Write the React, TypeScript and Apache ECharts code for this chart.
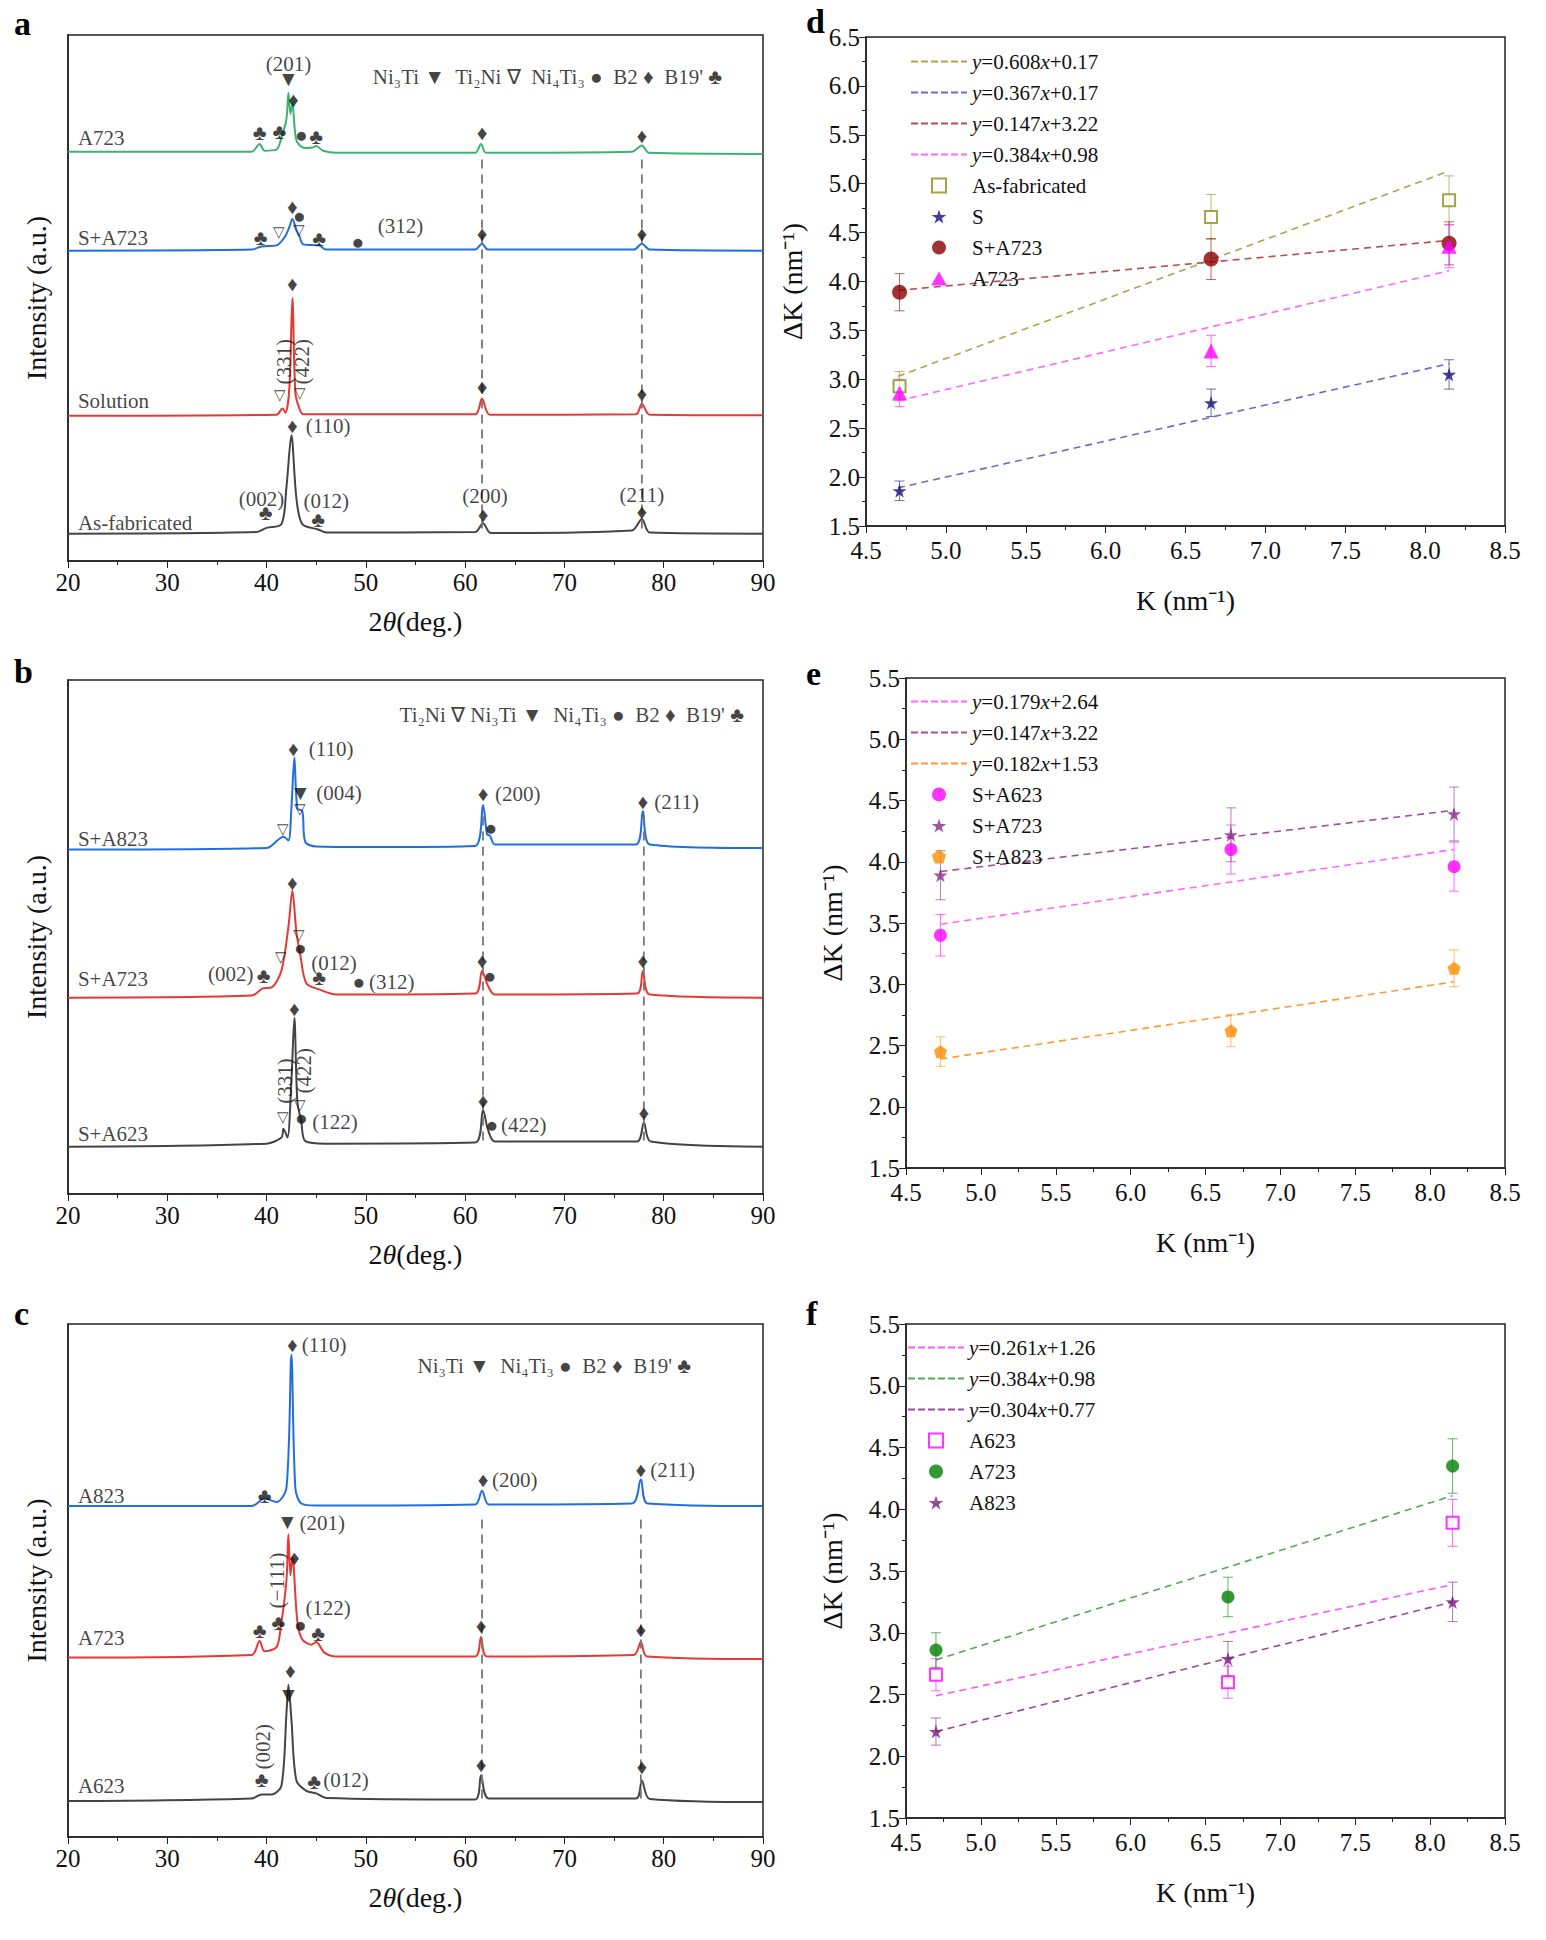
import React, { useEffect, useRef } from "react";
import * as echarts from "echarts";

const FONT = "Liberation Serif";

// ---- XRD curves: [2theta, intensity (offset, a.u.)]
const a_A723 = [[20,77.8],[38.5,77.8],[39.3,79.3],[39.8,78],[41,78.2],[41.5,80.5],[42,84],[42.2,89],[42.4,85],[42.6,87],[43,80],[43.8,78.5],[44.6,78.6],[45,78.9],[45.7,78],[47,77.6],[61,77.6],[61.6,79.3],[62.1,77.6],[76.8,77.8],[77.8,79],[78.5,77.6],[90,77.4]];
const a_SA723 = [[20,59],[38.5,59.2],[39.5,59.8],[41,60],[41.8,61.5],[42.3,63.5],[42.6,65],[43,63],[43.3,61.8],[43.7,60.2],[45.3,60],[46,59.2],[61,59.2],[61.7,60.3],[62.3,59.2],[77,59.2],[77.8,60.3],[78.6,59.2],[90,59]];
const a_Sol = [[20,27.6],[41,27.8],[41.6,29],[41.9,28.2],[42.3,33],[42.6,50],[42.9,32],[43.3,29],[43.7,27.9],[61,27.9],[61.7,30.9],[62.5,27.8],[77.2,27.9],[77.8,29.9],[78.6,27.8],[90,27.7]];
const a_AsFab = [[20,5.2],[39,5.5],[40,6.3],[41.5,7],[42,14],[42.5,23.9],[43,12],[43.6,7],[45.2,6],[46,5.4],[61,5.5],[61.8,7.2],[62.6,5.3],[76.8,5.8],[77.8,8],[78.6,5.4],[90,5.2]];

const b_SA823 = [[20,67],[40,67.3],[41.7,69.5],[42.2,68.8],[42.5,75],[42.8,84.9],[43.1,75],[43.6,74.5],[43.9,68.5],[45,67.6],[50,67.5],[61,67.7],[61.8,75.7],[62.2,70],[62.5,69.7],[63,68],[77.2,68],[77.9,74.5],[78.6,68],[90,67.3]];
const b_SA723 = [[20,38.2],[38.5,38.6],[39.6,40],[40.5,40.2],[41.5,43.5],[42.2,52],[42.6,59],[43,51],[43.4,46.5],[44,41],[45.3,39.8],[47,38.8],[61,39],[61.7,43.4],[62.3,40.5],[63,38.8],[77.3,39],[77.9,43.4],[78.6,38.8],[90,38.2]];
const b_SA623 = [[20,9.2],[40,9.8],[41.5,11],[41.7,12.7],[42.1,11],[42.5,22],[42.8,34.3],[43.1,18],[43.5,14],[43.9,10.3],[46,9.8],[61,10],[61.8,16.3],[62.3,12.5],[63,10.2],[77.3,10.2],[78,13.9],[78.7,10.2],[90,9.2]];

const c_A823 = [[20,64.5],[38.5,64.5],[39.8,66],[41,65.3],[42,68],[42.5,94],[42.9,68],[43.5,65],[45,64.6],[61,64.8],[61.7,67.5],[62.4,64.8],[76.8,65],[77.7,69.7],[78.4,65],[90,64.5]];
const c_A723 = [[20,35],[38.5,35.5],[39.3,38.2],[39.8,36.2],[41,37],[41.4,40.5],[42,50],[42.2,59],[42.4,51],[42.6,54.6],[43.1,42],[43.6,38.5],[44.5,37.5],[45,38],[45.8,36],[47,35.2],[61,35.2],[61.6,39],[62.2,35.2],[77,35.5],[77.7,38],[78.3,35.2],[90,34.7]];
const c_A623 = [[20,7],[38.5,7.5],[39.5,8.3],[40.5,8.3],[41.5,10],[42,24],[42.2,29.7],[42.5,23],[43,11],[44,9],[45,8.5],[46,7.6],[61,7.3],[61.6,12],[62.4,7.5],[77.2,7.5],[77.8,11],[78.6,7.4],[90,6.8]];

// annotations: [x, y, text, kind] kind: c centre, l left, r rotated
const a_notes: any[] = [
  [42.2,94.4,"(201)"],[42.2,91.6,"▼"],[42.7,87.6,"♦"],[39.3,81.3,"♣"],[41.3,81.5,"♣"],[43.5,81,"●"],[45,80.7,"♣"],
  [61.7,81.3,"♦"],[77.8,80.8,"♦"],[21,80.5,"A723","l"],
  [42.6,67.3,"♦"],[43.3,65.5,"●"],[41.3,62.5,"▽"],[43.3,62.9,"▽"],[39.4,61.4,"♣"],[45.3,61.2,"♣"],[49.2,60.6,"●"],[53.5,63.7,"(312)"],
  [61.7,62.2,"♦"],[77.8,62.2,"♦"],[21,61.4,"S+A723","l"],
  [42.6,52.6,"♦"],[41.8,37.9,"(331)","r"],[43.6,37.9,"(422)","r"],[41.4,31.5,"▽"],[43.4,31.9,"▽"],[61.7,33.1,"♦"],[77.8,31.7,"♦"],[21,30.4,"Solution","l"],
  [42.6,25.7,"♦"],[46.2,25.7,"(110)"],[39.5,11.8,"(002)"],[39.9,9.2,"♣"],[46,11.4,"(012)"],[45.2,7.8,"♣"],[62,12.4,"(200)"],[61.8,8.8,"♦"],
  [77.8,12.5,"(211)"],[77.8,9.3,"♦"],[21,7.3,"As-fabricated","l"],
  [50.7,92,"Ni₃Ti ▼  Ti₂Ni ∇  Ni₄Ti₃ ●  B2 ♦  B19' ♣","l"],
];
const b_notes: any[] = [
  [53.4,93.2,"Ti₂Ni ∇ Ni₃Ti ▼  Ni₄Ti₃ ●  B2 ♦  B19' ♣","l"],
  [42.7,86.6,"♦"],[46.5,86.6,"(110)"],[43.4,78,"▼"],[47.3,78,"(004)"],[43.4,75,"▽"],[41.7,71,"▽"],[61.8,77.8,"♦"],[65.3,77.8,"(200)"],[62.6,71.3,"●"],
  [77.9,76.3,"♦"],[81.3,76.3,"(211)"],[21,69,"S+A823","l"],
  [42.6,60.6,"♦"],[43.3,50.4,"▽"],[43.4,47.8,"●"],[41.5,46.2,"▽"],[46.8,45,"(012)"],[45.3,42,"♣"],[49.3,41.2,"●"],[52.6,41.2,"(312)"],
  [39.7,42.5,"♣"],[36.4,42.8,"(002)"],[61.7,45.4,"♦"],[62.5,42.5,"●"],[77.9,45.4,"♦"],[21,41.8,"S+A723","l"],
  [42.8,35.9,"♦"],[41.9,22,"(331)","r"],[43.8,24,"(422)","r"],[41.7,14.9,"▽"],[43.4,17.3,"▽"],[43.5,14.7,"●"],[46.9,14.1,"(122)"],
  [61.8,18.1,"♦"],[62.7,13.5,"●"],[65.9,13.5,"(422)"],[78,15.7,"♦"],[21,11.7,"S+A623","l"],
];
const c_notes: any[] = [
  [55.2,91.9,"Ni₃Ti ▼  Ni₄Ti₃ ●  B2 ♦  B19' ♣","l"],
  [42.6,96,"♦"],[45.8,96,"(110)"],[39.8,66.5,"♣"],[61.8,69.5,"♦"],[65,69.5,"(200)"],[77.7,71.5,"♦"],[80.9,71.5,"(211)"],[21,66.5,"A823","l"],
  [42.1,61.5,"▼"],[45.6,61.3,"(201)"],[42.8,54.3,"♦"],[41,50,"(−111)","r"],[46.2,44.7,"(122)"],[39.3,40.2,"♣"],[41.2,41.8,"♣"],[43.4,41.4,"●"],[45.2,39.6,"♣"],
  [61.6,41.2,"♦"],[77.7,40.4,"♦"],[21,38.7,"A723","l"],
  [42.4,32.3,"♦"],[42.2,27.7,"▼"],[39.6,17.6,"(002)","r"],[39.5,11.1,"♣"],[44.8,10.7,"♣"],[48,11.1,"(012)"],[61.6,14,"♦"],[77.8,13.7,"♦"],[21,9.9,"A623","l"],
];
const a_dash = [61.7, 77.8], a_dashY = [6.2, 77];
const b_dash = [61.8, 78], b_dashY = [10.4, 74.5];
const c_dash = [61.7, 77.7], c_dashY = [7.5, 62];

// ---- Williamson-Hall: K, dK, err
const K_d = [4.71, 6.66, 8.15];
const d_AsFab = [2.93, 4.66, 4.83], d_AsFabErr = [0.15, 0.23, 0.25];
const d_S = [1.86, 2.76, 3.05], d_SErr = [0.1, 0.14, 0.15];
const d_SA723 = [3.89, 4.23, 4.39], d_SA723Err = [0.19, 0.21, 0.22];
const d_A723 = [2.86, 3.29, 4.36], d_A723Err = [0.14, 0.16, 0.22];
const d_fitX = [4.7, 8.15];
const d_fits = [
  { name: "y=0.608x+0.17", y: [3.03, 5.13], color: "#a8a84a" },
  { name: "y=0.367x+0.17", y: [1.89, 3.16], color: "#6a6acc" },
  { name: "y=0.147x+3.22", y: [3.91, 4.42], color: "#b05050" },
  { name: "y=0.384x+0.98", y: [2.78, 4.11], color: "#ff66ff" },
];
const K_e = [4.73, 6.67, 8.16];
const e_SA623 = [3.40, 4.10, 3.96], e_SA623Err = [0.17, 0.2, 0.2];
const e_SA723 = [3.89, 4.22, 4.39], e_SA723Err = [0.2, 0.22, 0.22];
const e_SA823 = [2.45, 2.62, 3.13], e_SA823Err = [0.12, 0.13, 0.15];
const e_fitX = [4.73, 8.16];
const e_fits = [
  { name: "y=0.179x+2.64", y: [3.49, 4.10], color: "#ff66ff" },
  { name: "y=0.147x+3.22 ", y: [3.92, 4.42], color: "#a050a0" },
  { name: "y=0.182x+1.53", y: [2.39, 3.02], color: "#ff9933" },
];
const K_f = [4.70, 6.65, 8.15];
const f_A623 = [2.66, 2.60, 3.89], f_A623Err = [0.13, 0.13, 0.19];
const f_A723 = [2.86, 3.29, 4.35], f_A723Err = [0.14, 0.16, 0.22];
const f_A823 = [2.20, 2.79, 3.25], f_A823Err = [0.11, 0.14, 0.16];
const f_fitX = [4.70, 8.15];
const f_fits = [
  { name: "y=0.261x+1.26", y: [2.49, 3.39], color: "#ff55ff" },
  { name: "y=0.384x+0.98 ", y: [2.78, 4.11], color: "#55aa55" },
  { name: "y=0.304x+0.77", y: [2.20, 3.25], color: "#9a4a9a" },
];

const STAR = "path://M50,0 L61,35 L98,35 L68,57 L79,91 L50,70 L21,91 L32,57 L2,35 L39,35 Z";
const PENT = "path://M50,0 L98,36 L80,95 L20,95 L2,36 Z";
const SQUARE = "path://M0,0 L10,0 L10,10 L0,10 Z";
const TRI = "path://M50,0 L100,90 L0,90 Z";
const CIRCLE = "path://M50,0 A50,50 0 1,1 49.9,0 Z";
const DASH_ICON = "path://M0,0h7v2h-7z M10,0h7v2h-7z M20,0h7v2h-7z M30,0h7v2h-7z M40,0h7v2h-7z M50,0h6v2h-6z";

const App: React.FC = () => {
  const ref = useRef<HTMLDivElement>(null);
  useEffect(() => {
    document.body.style.margin = "0";
    const chart = echarts.init(ref.current!, null, { renderer: "svg" });

    const grids = [
      { left: 68, top: 35, width: 695, height: 526 },
      { left: 68, top: 680, width: 695, height: 514 },
      { left: 68, top: 1324, width: 695, height: 513 },
      { left: 866, top: 37, width: 639, height: 489 },
      { left: 906, top: 678, width: 599, height: 490 },
      { left: 906, top: 1324, width: 599, height: 494 },
    ].map((g) => ({ ...g, show: true, borderColor: "#222", borderWidth: 1.5, backgroundColor: "transparent" }));

    const tickText = { fontFamily: FONT, fontSize: 25, color: "#111" };
    const nameText = { fontFamily: FONT, fontSize: 28, color: "#111" };
    const xAxis: any[] = [];
    const yAxis: any[] = [];
    for (let i = 0; i < 3; i++) {
      xAxis.push({
        gridIndex: i, type: "value", min: 20, max: 90, interval: 10,
        name: "2{i|θ}(deg.)", nameLocation: "middle", nameGap: 46,
        nameTextStyle: { ...nameText, rich: { i: { ...nameText, fontStyle: "italic" } } },
        axisLine: { lineStyle: { color: "#222", width: 1.5 } },
        axisTick: { length: 7, lineStyle: { color: "#222" } },
        minorTick: { show: true, splitNumber: 2, length: 4, lineStyle: { color: "#222" } },
        axisLabel: { ...tickText, margin: 9 }, splitLine: { show: false },
      });
      yAxis.push({
        gridIndex: i, type: "value", min: 0, max: 100,
        name: "Intensity (a.u.)", nameLocation: "middle", nameGap: 18, nameTextStyle: nameText,
        axisLine: { show: true, lineStyle: { color: "#222", width: 1.5 } },
        axisTick: { show: false }, axisLabel: { show: false }, splitLine: { show: false },
      });
    }
    const wh = [
      { min: 1.5, max: 6.5 },
      { min: 1.5, max: 5.5 },
      { min: 1.5, max: 5.5 },
    ];
    for (let i = 0; i < 3; i++) {
      xAxis.push({
        gridIndex: 3 + i, type: "value", min: 4.5, max: 8.5, interval: 0.5,
        name: "K (nm⁻¹)", nameLocation: "middle", nameGap: 60, nameTextStyle: nameText,
        axisLine: { lineStyle: { color: "#222", width: 1.5 } },
        axisTick: { length: 7, lineStyle: { color: "#222" } },
        minorTick: { show: true, splitNumber: 2, length: 4, lineStyle: { color: "#222" } },
        axisLabel: { ...tickText, margin: 12, formatter: (v: number) => v.toFixed(1) },
        splitLine: { show: false },
      });
      yAxis.push({
        gridIndex: 3 + i, type: "value", min: wh[i].min, max: wh[i].max, interval: 0.5,
        name: "ΔK (nm⁻¹)", nameLocation: "middle", nameGap: 60, nameTextStyle: nameText,
        axisLine: { show: true, lineStyle: { color: "#222", width: 1.5 } },
        axisTick: { length: 7, lineStyle: { color: "#222" } },
        minorTick: { show: true, splitNumber: 2, length: 4, lineStyle: { color: "#222" } },
        axisLabel: { ...tickText, margin: 6, formatter: (v: number) => v.toFixed(1) },
        splitLine: { show: false },
      });
    }

    const series: any[] = [];
    const curve = (idx: number, data: number[][], color: string) =>
      series.push({ type: "line", xAxisIndex: idx, yAxisIndex: idx, data, symbol: "none", smooth: 0.3, lineStyle: { color, width: 2 } });
    const notes = (idx: number, list: any[]) =>
      series.push({
        type: "scatter", xAxisIndex: idx, yAxisIndex: idx, symbolSize: 1, itemStyle: { color: "transparent" }, silent: true, z: 5,
        data: list.map((n) => ({
          value: [n[0], n[1]],
          label: {
            show: true, formatter: n[2], position: "inside", color: "#111", fontFamily: FONT,
            fontSize: n[2] === "▽" ? 15 : 21,
            align: n[3] === "l" ? "left" : "center", verticalAlign: "middle", rotate: n[3] === "r" ? 90 : 0,
          },
        })),
      });
    const dashes = (idx: number, xs: number[], ys: number[]) =>
      xs.forEach((x) =>
        series.push({ type: "line", xAxisIndex: idx, yAxisIndex: idx, data: [[x, ys[0]], [x, ys[1]]], symbol: "none", lineStyle: { color: "#777", width: 1.8, type: [9, 6] } })
      );

    curve(0, a_A723, "#3cb371"); curve(0, a_SA723, "#1f6fe0");
    curve(0, a_Sol, "#e53935"); curve(0, a_AsFab, "#444");
    dashes(0, a_dash, a_dashY); notes(0, a_notes);
    curve(1, b_SA823, "#1f6fe0"); curve(1, b_SA723, "#e53935"); curve(1, b_SA623, "#444");
    dashes(1, b_dash, b_dashY); notes(1, b_notes);
    curve(2, c_A823, "#1f6fe0"); curve(2, c_A723, "#e53935"); curve(2, c_A623, "#444");
    dashes(2, c_dash, c_dashY); notes(2, c_notes);

    const fitLines = (idx: number, xs: number[], fits: any[]) =>
      fits.forEach((f) =>
        series.push({ type: "line", name: f.name, xAxisIndex: idx, yAxisIndex: idx, data: [[xs[0], f.y[0]], [xs[1], f.y[1]]], symbol: "none", lineStyle: { color: f.color, width: 1.6, type: [7, 5] }, itemStyle: { color: f.color } })
      );
    const points = (idx: number, name: string, ks: number[], ys: number[], err: number[], symbol: string, size: number, color: string, hollow = false) => {
      series.push({
        type: "custom", xAxisIndex: idx, yAxisIndex: idx, z: 3,
        data: ks.map((k, i) => [k, ys[i] - err[i], ys[i] + err[i]]),
        renderItem: (p: any, api: any) => {
          const lo = api.coord([api.value(0), api.value(1)]);
          const hi = api.coord([api.value(0), api.value(2)]);
          const st = { stroke: color, lineWidth: 1, opacity: 0.6 };
          return { type: "group", children: [
            { type: "line", shape: { x1: lo[0], y1: lo[1], x2: hi[0], y2: hi[1] }, style: st },
            { type: "line", shape: { x1: lo[0] - 5, y1: lo[1], x2: lo[0] + 5, y2: lo[1] }, style: st },
            { type: "line", shape: { x1: hi[0] - 5, y1: hi[1], x2: hi[0] + 5, y2: hi[1] }, style: st },
          ] };
        },
      });
      series.push({
        type: "scatter", name, xAxisIndex: idx, yAxisIndex: idx, z: 4, symbol, symbolSize: size,
        data: ks.map((k, i) => [k, ys[i]]),
        itemStyle: hollow ? { color: "#fff", borderColor: color, borderWidth: 2 } : { color },
      });
    };

    fitLines(3, d_fitX, d_fits);
    points(3, "As-fabricated", K_d, d_AsFab, d_AsFabErr, SQUARE, 12, "#8c8c1a", true);
    points(3, "S", K_d, d_S, d_SErr, STAR, 14, "#101080");
    points(3, "S+A723", K_d, d_SA723, d_SA723Err, "circle", 15, "#8b0000");
    points(3, "A723", K_d, d_A723, d_A723Err, TRI, 15, "#ff00ff");
    fitLines(4, e_fitX, e_fits);
    points(4, "S+A623", K_e, e_SA623, e_SA623Err, "circle", 13, "#ff00ff");
    points(4, "S+A723 ", K_e, e_SA723, e_SA723Err, STAR, 14, "#8b2a8b");
    points(4, "S+A823", K_e, e_SA823, e_SA823Err, PENT, 13, "#ff8c00");
    fitLines(5, f_fitX, f_fits);
    points(5, "A623", K_f, f_A623, f_A623Err, SQUARE, 12, "#ff00ff", true);
    points(5, "A723 ", K_f, f_A723, f_A723Err, "circle", 13, "#008000");
    points(5, "A823", K_f, f_A823, f_A823Err, STAR, 14, "#7b1a7b");

    const eqFmt = (n: string) => n.trim().replace(/^y/, "{i|y}").replace(/x/, "{i|x}");
    const legendStyle = (left: number, top: number, fits: any[], marks: [string, string][]) => ({
      left, top, orient: "vertical", itemGap: 10, itemWidth: 56, itemHeight: 14,
      data: [...fits.map((f) => ({ name: f.name, icon: DASH_ICON })), ...marks.map((m) => ({ name: m[0], icon: m[1] }))],
      formatter: (n: string) => (n.startsWith("y=") ? eqFmt(n) : n.trim()),
      textStyle: { fontFamily: FONT, fontSize: 21, color: "#111", rich: { i: { fontStyle: "italic", fontFamily: FONT, fontSize: 21 } } },
    });
    const legend = [
      legendStyle(906, 46, d_fits, [["As-fabricated", SQUARE], ["S", STAR], ["S+A723", CIRCLE], ["A723", TRI]]),
      legendStyle(906, 686, e_fits, [["S+A623", CIRCLE], ["S+A723 ", STAR], ["S+A823", PENT]]),
      legendStyle(903, 1332, f_fits, [["A623", SQUARE], ["A723 ", CIRCLE], ["A823", STAR]]),
    ];

    const letter = (t: string, x: number, y: number) => ({ type: "text", left: x, top: y, style: { text: t, fontFamily: FONT, fontSize: 34, fontWeight: "bold", fill: "#000" } });

    chart.setOption({
      animation: false,
      textStyle: { fontFamily: FONT },
      grid: grids, xAxis, yAxis, series, legend,
      graphic: [letter("a", 14, 6), letter("b", 14, 654), letter("c", 14, 1296), letter("d", 806, 4), letter("e", 806, 656), letter("f", 806, 1296)],
    });
    return () => chart.dispose();
  }, []);
  return <div ref={ref} style={{ width: 1546, height: 1940, background: "#fff" }} />;
};

export default App;
